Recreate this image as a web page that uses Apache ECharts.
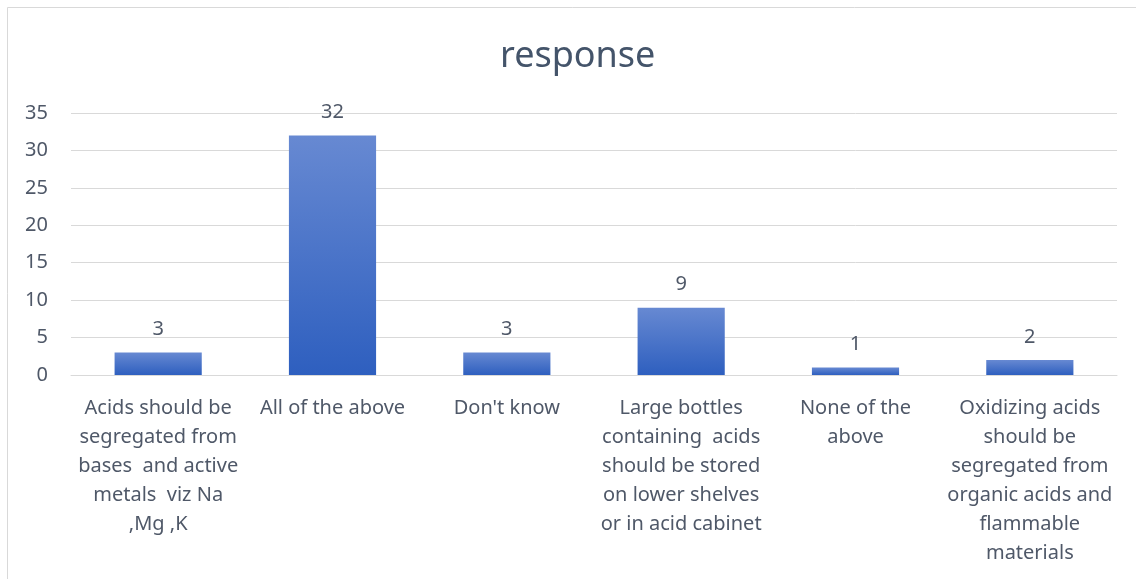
<!DOCTYPE html>
<html>
<head>
<meta charset="utf-8">
<script src="https://cdn.jsdelivr.net/npm/echarts@6/dist/echarts.min.js"></script>
</head>
<body style="margin:0">
<div id="main" style="width:1136px;height:579px;"></div>
<script type="text/javascript">
// categories (line breaks as in the original chart)
var categories = [
    'Acids should be\nsegregated from\nbases  and active\nmetals  viz Na\n,Mg ,K',
    'All of the above',
    "Don't know",
    'Large bottles\ncontaining  acids\nshould be stored\non lower shelves\nor in acid cabinet',
    'None of the\nabove',
    'Oxidizing acids\nshould be\nsegregated from\norganic acids and\nflammable\nmaterials'
];
var responses = [3, 32, 3, 9, 1, 2];
var yTicks = [0, 5, 10, 15, 20, 25, 30, 35];

var font = '"Noto Sans", sans-serif';
var textColor = '#4f5868';

var option = {
    backgroundColor: '#fff',
    animation: false,
    title: {
        text: 'response',
        left: 495,
        top: 34,
        textStyle: { color: '#44546a', fontSize: 36, fontWeight: 'normal', fontFamily: font }
    },
    graphic: [{
        type: 'rect',
        shape: { x: 7.5, y: 7.5, width: 1140, height: 600 },
        style: { fill: 'none', stroke: '#d9d9d9', lineWidth: 1 },
        silent: true
    }],
    grid: { left: 71, right: 19, top: 113, bottom: 204 },
    xAxis: {
        type: 'category',
        data: categories,
        axisTick: { show: false },
        axisLine: { lineStyle: { color: '#d9d9d9' } },
        axisLabel: {
            interval: 0,
            margin: 19,
            color: textColor,
            fontSize: 20,
            lineHeight: 29,
            fontFamily: font,
            align: 'center',
            verticalAlign: 'top'
        }
    },
    yAxis: {
        type: 'value',
        min: yTicks[0],
        max: yTicks[yTicks.length - 1],
        interval: 5,
        axisLine: { show: false },
        axisTick: { show: false },
        splitLine: { lineStyle: { color: '#d9d9d9' } },
        axisLabel: { color: textColor, fontSize: 20, fontFamily: font, margin: 23 }
    },
    series: [{
        name: 'response',
        type: 'bar',
        data: responses,
        barWidth: '50%',
        itemStyle: {
            color: new echarts.graphic.LinearGradient(0, 0, 0, 1, [
                { offset: 0, color: '#6789d2' },
                { offset: 1, color: '#2e5fbf' }
            ])
        },
        label: {
            show: true,
            position: 'top',
            distance: 13,
            color: textColor,
            fontSize: 20,
            fontFamily: font
        }
    }]
};

var myChart = echarts.init(document.getElementById('main'));
myChart.setOption(option);
</script>
</body>
</html>
